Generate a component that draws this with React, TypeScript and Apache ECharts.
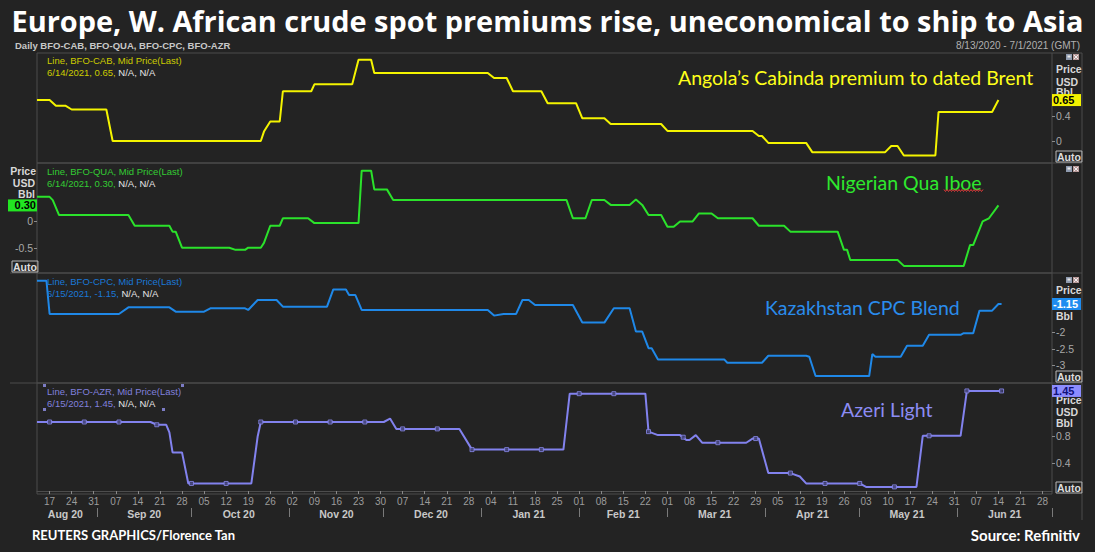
import { useEffect, useRef } from "react";
import * as echarts from "echarts";

const TITLE = "Europe, W. African crude spot premiums rise, uneconomical to ship to Asia";
const SUBTITLE = "Daily BFO-CAB, BFO-QUA, BFO-CPC, BFO-AZR";
const RANGE_TEXT = "8/13/2020 - 7/1/2021 (GMT)";
const CREDIT = "REUTERS GRAPHICS/Florence Tan";
const SOURCE = "Source: Refinitiv";
const X_MIN = "2020-08-13";
const X_MAX = "2021-07-01";

// Angola Cabinda (BFO-CAB)
const cabDates = ["2020-08-13","2020-08-17","2020-08-19","2020-08-22","2020-08-24","2020-09-04","2020-09-06","2020-10-23","2020-10-24","2020-10-26","2020-10-29","2020-10-30","2020-11-08","2020-11-09","2020-11-21","2020-11-23","2020-11-27","2020-11-28","2021-01-03","2021-01-05","2021-01-09","2021-01-11","2021-01-20","2021-01-22","2021-01-31","2021-02-02","2021-02-09","2021-02-11","2021-02-27","2021-03-01","2021-03-28","2021-03-30","2021-03-31","2021-04-02","2021-04-14","2021-04-16","2021-05-09","2021-05-11","2021-05-13","2021-05-15","2021-05-25","2021-05-26","2021-06-12","2021-06-14"];
const cabValues = [0.65,0.65,0.56,0.56,0.5,0.5,0.0,0.0,0.15,0.31,0.31,0.79,0.79,0.9,0.9,1.29,1.29,1.08,1.08,1.0,1.0,0.79,0.79,0.6,0.6,0.36,0.36,0.27,0.27,0.16,0.16,0.08,0.08,-0.03,-0.03,-0.18,-0.18,-0.08,-0.08,-0.23,-0.23,0.46,0.46,0.65];

// Nigerian Qua Iboe (BFO-QUA)
const quaDates = ["2020-08-13","2020-08-17","2020-08-18","2020-08-20","2020-09-11","2020-09-13","2020-09-24","2020-09-25","2020-09-26","2020-09-28","2020-10-13","2020-10-15","2020-10-18","2020-10-19","2020-10-23","2020-10-24","2020-10-26","2020-10-29","2020-10-30","2020-11-07","2020-11-09","2020-11-23","2020-11-24","2020-11-27","2020-11-28","2020-12-02","2020-12-04","2021-01-28","2021-01-30","2021-02-03","2021-02-05","2021-02-09","2021-02-11","2021-02-17","2021-02-19","2021-02-21","2021-02-23","2021-02-27","2021-03-01","2021-03-03","2021-03-05","2021-03-09","2021-03-11","2021-03-15","2021-03-17","2021-03-28","2021-03-30","2021-04-07","2021-04-09","2021-04-24","2021-04-26","2021-04-27","2021-04-28","2021-05-13","2021-05-15","2021-06-03","2021-06-05","2021-06-06","2021-06-09","2021-06-11","2021-06-14"];
const quaValues = [0.46,0.46,0.4,0.12,0.12,-0.08,-0.08,-0.19,-0.19,-0.49,-0.49,-0.53,-0.53,-0.49,-0.49,-0.4,-0.08,-0.08,0.06,0.06,-0.03,-0.03,0.95,0.95,0.6,0.6,0.4,0.4,0.06,0.06,0.4,0.4,0.31,0.31,0.41,0.31,0.12,0.12,-0.1,-0.1,0.0,0.0,0.15,0.15,0.06,0.06,-0.08,-0.08,-0.19,-0.19,-0.53,-0.53,-0.72,-0.72,-0.83,-0.83,-0.44,-0.44,0.0,0.06,0.3];

// Kazakhstan CPC Blend (BFO-CPC)
const cpcDates = ["2020-08-13","2020-08-16","2020-08-17","2020-09-08","2020-09-11","2020-09-24","2020-09-26","2020-10-05","2020-10-07","2020-10-18","2020-10-19","2020-10-22","2020-10-28","2020-10-30","2020-11-13","2020-11-15","2020-11-19","2020-11-20","2020-11-22","2020-11-24","2021-01-03","2021-01-05","2021-01-08","2021-01-12","2021-01-14","2021-01-16","2021-01-18","2021-01-30","2021-02-02","2021-02-09","2021-02-12","2021-02-17","2021-02-19","2021-02-21","2021-02-23","2021-02-24","2021-02-26","2021-03-19","2021-03-20","2021-03-31","2021-04-02","2021-04-14","2021-04-15","2021-04-17","2021-05-04","2021-05-05","2021-05-06","2021-05-14","2021-05-16","2021-05-21","2021-05-23","2021-06-02","2021-06-03","2021-06-06","2021-06-08","2021-06-12","2021-06-14","2021-06-15"];
const cpcValues = [-0.45,-0.45,-1.45,-1.45,-1.25,-1.25,-1.38,-1.38,-1.28,-1.28,-1.33,-1.03,-1.03,-1.23,-1.23,-0.71,-0.71,-0.88,-0.88,-1.33,-1.33,-1.5,-1.45,-1.45,-1.03,-1.03,-1.18,-1.18,-1.71,-1.71,-1.28,-1.28,-1.98,-1.98,-2.48,-2.48,-2.82,-2.82,-2.92,-2.92,-2.71,-2.71,-2.74,-3.32,-3.32,-2.66,-2.74,-2.74,-2.41,-2.41,-2.08,-2.08,-2.03,-2.03,-1.35,-1.35,-1.15,-1.15];

// Azeri Light (BFO-AZR)
const azrDates = ["2020-08-13","2020-09-18","2020-09-20","2020-09-23","2020-09-24","2020-09-25","2020-09-28","2020-09-30","2020-10-20","2020-10-22","2020-10-23","2020-12-01","2020-12-03","2020-12-05","2020-12-25","2020-12-29","2021-01-27","2021-01-29","2021-02-22","2021-02-23","2021-02-26","2021-03-05","2021-03-07","2021-03-08","2021-03-10","2021-03-12","2021-03-26","2021-03-28","2021-03-30","2021-04-02","2021-04-09","2021-04-12","2021-04-14","2021-05-01","2021-05-03","2021-05-19","2021-05-21","2021-06-02","2021-06-04","2021-06-15"];
const azrValues = [1.0,1.0,0.96,0.96,0.85,0.56,0.56,0.11,0.11,0.79,1.0,1.0,1.05,0.9,0.9,0.6,0.6,1.41,1.41,0.86,0.81,0.81,0.74,0.74,0.81,0.7,0.7,0.76,0.76,0.26,0.26,0.21,0.11,0.11,0.06,0.06,0.8,0.8,1.45,1.45];
const azrMarkerDates = ["2020-08-17","2020-08-28","2020-09-08","2020-09-20","2020-10-01","2020-10-12","2020-10-23","2020-11-03","2020-11-14","2020-11-25","2020-12-07","2020-12-18","2020-12-29","2021-01-09","2021-01-20","2021-02-01","2021-02-12","2021-02-23","2021-03-06","2021-03-17","2021-03-29","2021-04-09","2021-04-20","2021-05-01","2021-05-12","2021-05-23","2021-06-04","2021-06-15"];
const azrMarkerValues = [1.0,1.0,1.0,0.96,0.11,0.11,1.0,1.0,1.0,1.0,0.9,0.9,0.6,0.6,0.6,1.41,1.41,0.86,0.78,0.7,0.76,0.26,0.11,0.11,0.06,0.8,1.45,1.45];

// x-axis ticks
const weekTickDates = ["2020-08-17","2020-08-24","2020-08-31","2020-09-07","2020-09-14","2020-09-21","2020-09-28","2020-10-05","2020-10-12","2020-10-19","2020-10-26","2020-11-02","2020-11-09","2020-11-16","2020-11-23","2020-11-30","2020-12-07","2020-12-14","2020-12-21","2020-12-28","2021-01-04","2021-01-11","2021-01-18","2021-01-25","2021-02-01","2021-02-08","2021-02-15","2021-02-22","2021-03-01","2021-03-08","2021-03-15","2021-03-22","2021-03-29","2021-04-05","2021-04-12","2021-04-19","2021-04-26","2021-05-03","2021-05-10","2021-05-17","2021-05-24","2021-05-31","2021-06-07","2021-06-14","2021-06-21","2021-06-28"];
const monthBoundaryDates = ["2020-09-01","2020-10-01","2020-11-01","2020-12-01","2021-01-01","2021-02-01","2021-03-01","2021-04-01","2021-05-01","2021-06-01","2021-07-01"];
const monthLabelDates = ["2020-08-22","2020-09-16","2020-10-16","2020-11-16","2020-12-16","2021-01-16","2021-02-15","2021-03-16","2021-04-16","2021-05-16","2021-06-16"];
const monthLabels = ["Aug 20","Sep 20","Oct 20","Nov 20","Dec 20","Jan 21","Feb 21","Mar 21","Apr 21","May 21","Jun 21"];

// y-axis ticks & last-value badges
const cabTicks = [0, 0.4];
const cabBadge = 0.65;
const quaTicks = [-0.5, 0];
const quaBadge = 0.3;
const cpcTicks = [-3, -2.5, -2];
const cpcBadge = -1.15;
const azrTicks = [0.4, 0.8];
const azrBadge = 1.45;

const SMALL = "'Liberation Sans', Arial, sans-serif";
const BIG = "Lato, 'Open Sans', sans-serif";
const TITLE_FONT = "'Open Sans', Lato, sans-serif";
const BG = "#232323";
const GRIDLINE = "#4d4d4d";

function ts(s: string): number {
  const [y, m, d] = s.split("-").map(Number);
  return Date.UTC(y, m - 1, d);
}
function pairs(dates: string[], values: number[]) {
  return dates.map((d, i) => [ts(d), values[i]]);
}

function yAxis(
  gridIndex: number,
  min: number,
  max: number,
  ticks: number[],
  badge: number,
  side: "left" | "right",
  badgeBg: string,
  badgeFg: string
) {
  return {
    type: "value",
    gridIndex,
    position: side,
    min,
    max,
    z: 20,
    axisLine: { show: false },
    splitLine: { show: false },
    axisTick: {
      show: true,
      inside: false,
      length: 3,
      customValues: ticks,
      lineStyle: { color: "#8a8a8a" },
    },
    axisLabel: {
      show: true,
      margin: 0,
      customValues: [...ticks, badge],
      formatter: (v: number) =>
        Math.abs(v - badge) < 1e-9 ? `{b|${badge.toFixed(2)}}` : `{n|${String(v)}}`,
      rich: {
        n: {
          color: "#a8a8a8",
          fontSize: 10.5,
          fontFamily: SMALL,
          padding: side === "right" ? [0, 0, 0, 4] : [0, 4, 0, 0],
        },
        b: {
          backgroundColor: badgeBg,
          color: badgeFg,
          fontSize: 11,
          fontWeight: "bold",
          fontFamily: SMALL,
          width: 27,
          height: 12,
          lineHeight: 12,
          align: side === "right" ? "left" : "right",
          padding: [0, 1, 0, 1],
        },
      },
    },
  };
}

function text(x: number, y: number, t: string, style: any = {}, z = 5) {
  return {
    type: "text",
    x,
    y,
    z,
    style: {
      text: t,
      fill: "#cccccc",
      fontSize: 10,
      fontFamily: SMALL,
      align: "left",
      verticalAlign: "middle",
      textAlign: "left",
      textVerticalAlign: "middle",
      ...style,
    },
  };
}
function hline(x1: number, x2: number, y: number, color = GRIDLINE) {
  return { type: "line", z: 1, shape: { x1, y1: y, x2, y2: y }, style: { stroke: color, lineWidth: 1 } };
}
function vline(x: number, y1: number, y2: number, color = GRIDLINE) {
  return { type: "line", z: 1, shape: { x1: x, y1, x2: x, y2 }, style: { stroke: color, lineWidth: 1 } };
}
function autoBox(x: number, y: number) {
  return {
    type: "text",
    x,
    y,
    z: 6,
    style: {
      text: "Auto",
      fill: "#dddddd",
      fontSize: 10.5,
      fontWeight: "bold",
      fontFamily: SMALL,
      borderColor: "#b8b8b8",
      borderWidth: 1,
      padding: [0, 1, 0, 1],
      align: "left",
      verticalAlign: "top",
      textAlign: "left",
      textVerticalAlign: "top",
    },
  };
}
function icons(x: number, y: number) {
  return [
    { type: "rect", z: 6, shape: { x, y, width: 6, height: 6 }, style: { fill: "#8e9aae" } },
    { type: "rect", z: 7, shape: { x: x + 1.5, y: y + 1.5, width: 3, height: 2 }, style: { fill: "#e8e8e8" } },
    { type: "rect", z: 6, shape: { x: x + 7, y, width: 6, height: 6 }, style: { fill: "#b89a9a" } },
    { type: "line", z: 7, shape: { x1: x + 8, y1: y + 1, x2: x + 12, y2: y + 5 }, style: { stroke: "#eee", lineWidth: 1 } },
    { type: "line", z: 7, shape: { x1: x + 12, y1: y + 1, x2: x + 8, y2: y + 5 }, style: { stroke: "#eee", lineWidth: 1 } },
  ];
}
function header(y: number, line1: string, dateVal: string, color: string) {
  return [
    text(47, y, line1, { fill: color, fontSize: 9.5 }),
    text(47, y + 12.5, `{c|${dateVal}, }{w|N/A, N/A}`, {
      fontSize: 9.5,
      rich: {
        c: { fill: color, fontSize: 9.5, fontFamily: SMALL },
        w: { fill: "#e8e8e8", fontSize: 9.5, fontFamily: SMALL },
      },
    }),
  ];
}

export default function App() {
  const ref = useRef<HTMLDivElement>(null);

  useEffect(() => {
    if (!ref.current) return;
    const chart = echarts.init(ref.current, undefined, { renderer: "svg" });
    const xmin = ts(X_MIN);
    const xmax = ts(X_MAX);
    const weekTicks = weekTickDates.map(ts);
    const monthTicks = monthBoundaryDates.map(ts);
    const monthMids = monthLabelDates.map(ts);
    const monthMap = new Map<number, string>();
    monthMids.forEach((v, i) => monthMap.set(v, monthLabels[i]));

    const gridLeft = 37;
    const gridRight = 43;
    const grids = [
      { top: 53, height: 110 },
      { top: 163, height: 110 },
      { top: 273, height: 110 },
      { top: 383, height: 111 },
    ].map((g) => ({
      ...g,
      left: gridLeft,
      right: gridRight,
      show: true,
      borderColor: GRIDLINE,
      borderWidth: 1,
      backgroundColor: "transparent",
    }));

    const hiddenX = (i: number) => ({
      type: "value",
      gridIndex: i,
      min: xmin,
      max: xmax,
      show: false,
      splitLine: { show: false },
    });

    const squiggle: number[][] = [];
    for (let i = 0; i <= 26; i++) squiggle.push([944 + i * 1.5, 190.5 + (i % 2 === 0 ? -1 : 1)]);

    const handle = (x: number, y: number) => ({
      type: "rect",
      z: 6,
      shape: { x, y, width: 3, height: 3 },
      style: { fill: "#7c7cc4" },
    });

    const labelStyle = { fill: "#d8d8d8", fontSize: 10.5, fontWeight: "bold" };

    const option: any = {
      animation: false,
      backgroundColor: BG,
      grid: grids,
      xAxis: [
        hiddenX(0),
        hiddenX(1),
        hiddenX(2),
        {
          type: "value",
          gridIndex: 3,
          min: xmin,
          max: xmax,
          splitLine: { show: false },
          axisLine: { show: true, lineStyle: { color: GRIDLINE } },
          axisTick: { show: true, customValues: weekTicks, length: 3, lineStyle: { color: "#8a8a8a" } },
          axisLabel: {
            customValues: weekTicks,
            formatter: (v: number) => String(new Date(v).getUTCDate()).padStart(2, "0"),
            color: "#9c9c9c",
            fontSize: 10,
            fontFamily: SMALL,
            margin: 2,
          },
        },
        {
          type: "value",
          gridIndex: 3,
          min: xmin,
          max: xmax,
          position: "bottom",
          offset: 14,
          splitLine: { show: false },
          axisLine: { show: false },
          axisTick: { show: true, customValues: monthTicks, length: 9, lineStyle: { color: "#7a7a7a" } },
          axisLabel: {
            customValues: monthMids,
            formatter: (v: number) => monthMap.get(v) ?? "",
            color: "#c8c8c8",
            fontWeight: "bold",
            fontSize: 10.5,
            fontFamily: SMALL,
            margin: 0,
          },
        },
      ],
      yAxis: [
        yAxis(0, -0.349, 1.397, cabTicks, cabBadge, "right", "#f2f200", "#000000"),
        yAxis(1, -0.963, 1.093, quaTicks, quaBadge, "left", "#22e622", "#000000"),
        yAxis(2, -3.53, -0.216, cpcTicks, cpcBadge, "right", "#1e8cf0", "#ffffff"),
        yAxis(3, -0.043, 1.565, azrTicks, azrBadge, "right", "#8c8cff", "#10107a"),
      ],
      series: [
        {
          type: "line",
          name: "BFO-CAB",
          xAxisIndex: 0,
          yAxisIndex: 0,
          data: pairs(cabDates, cabValues),
          showSymbol: false,
          lineStyle: { color: "#f4f400", width: 2 },
          itemStyle: { color: "#f4f400" },
        },
        {
          type: "line",
          name: "BFO-QUA",
          xAxisIndex: 1,
          yAxisIndex: 1,
          data: pairs(quaDates, quaValues),
          showSymbol: false,
          lineStyle: { color: "#2be22b", width: 2 },
          itemStyle: { color: "#2be22b" },
        },
        {
          type: "line",
          name: "BFO-CPC",
          xAxisIndex: 2,
          yAxisIndex: 2,
          data: pairs(cpcDates, cpcValues),
          showSymbol: false,
          lineStyle: { color: "#1f88e8", width: 2 },
          itemStyle: { color: "#1f88e8" },
        },
        {
          type: "line",
          name: "BFO-AZR",
          xAxisIndex: 3,
          yAxisIndex: 3,
          data: pairs(azrDates, azrValues),
          showSymbol: false,
          lineStyle: { color: "#8282ee", width: 2 },
          itemStyle: { color: "#8282ee" },
        },
        {
          type: "scatter",
          name: "BFO-AZR points",
          xAxisIndex: 3,
          yAxisIndex: 3,
          data: pairs(azrMarkerDates, azrMarkerValues),
          symbol: "rect",
          symbolSize: 4,
          itemStyle: { color: "#3a3a66", borderColor: "#8c8cf0", borderWidth: 1 },
          z: 3,
        },
      ],
      graphic: {
        elements: [
          text(547.5, 20, TITLE, {
            fill: "#ffffff",
            fontSize: 28.9,
            fontWeight: "bold",
            fontFamily: TITLE_FONT,
            align: "center",
            textAlign: "center",
          }),
          text(15, 45, SUBTITLE, { fill: "#c8c8c8", fontSize: 9.5, fontWeight: "bold" }),
          text(1080, 45, RANGE_TEXT, { fill: "#b0b0b0", fontSize: 10, align: "right", textAlign: "right" }),
          hline(1052, 1082, 53),
          hline(1052, 1082, 163),
          hline(1052, 1082, 273),
          hline(1052, 1082, 383),
          hline(10, 37, 273),
          hline(10, 37, 383),
          vline(1082, 53, 520),
          ...header(60, "Line, BFO-CAB, Mid Price(Last)", "6/14/2021, 0.65", "#cccc00"),
          ...header(171, "Line, BFO-QUA, Mid Price(Last)", "6/14/2021, 0.30", "#33cc33"),
          ...header(281, "Line, BFO-CPC, Mid Price(Last)", "6/15/2021, -1.15", "#1a78d6"),
          ...header(391, "Line, BFO-AZR, Mid Price(Last)", "6/15/2021, 1.45", "#8080dd"),
          handle(43, 384),
          handle(181, 384),
          handle(43, 408),
          handle(162, 408),
          text(678, 77, "Angola’s Cabinda premium to dated Brent", { fill: "#ffff1a", fontSize: 19.5, fontFamily: BIG }),
          text(826, 182, "Nigerian Qua Iboe", { fill: "#2ee82e", fontSize: 19.5, fontFamily: BIG }),
          { type: "polyline", z: 6, shape: { points: squiggle }, style: { stroke: "#e03a3a", lineWidth: 1, fill: null } },
          text(765, 307, "Kazakhstan CPC Blend", { fill: "#2a8cec", fontSize: 19.5, fontFamily: BIG }),
          text(841, 409, "Azeri Light", { fill: "#8c8cf4", fontSize: 19.5, fontFamily: BIG }),
          ...icons(1066, 54),
          text(1056, 69, "Price", labelStyle, 1),
          text(1056, 82, "USD", labelStyle, 1),
          text(1056, 92, "Bbl", labelStyle, 1),
          autoBox(1056, 151),
          ...icons(1066, 166),
          text(36, 171, "Price", { ...labelStyle, align: "right", textAlign: "right" }, 1),
          text(35, 183, "USD", { ...labelStyle, align: "right", textAlign: "right" }, 1),
          text(35, 194, "Bbl", { ...labelStyle, align: "right", textAlign: "right" }, 1),
          autoBox(12, 261),
          ...icons(1066, 277),
          text(1056, 290, "Price", labelStyle, 1),
          text(1056, 316, "Bbl", labelStyle, 1),
          autoBox(1056, 371),
          text(1056, 400, "Price", labelStyle, 1),
          text(1056, 411.5, "USD", labelStyle, 1),
          text(1056, 423, "Bbl", labelStyle, 1),
          autoBox(1056, 482),
          text(32, 535, CREDIT, { fill: "#ffffff", fontSize: 13, fontWeight: "bold", fontFamily: BIG }),
          text(1080, 535, SOURCE, {
            fill: "#ffffff",
            fontSize: 15,
            fontWeight: "bold",
            fontFamily: BIG,
            align: "right",
            textAlign: "right",
          }),
        ],
      },
    };

    chart.setOption(option);
    return () => chart.dispose();
  }, []);

  return (
    <div
      ref={ref}
      style={{ position: "fixed", left: 0, top: 0, width: 1095, height: 552, background: BG }}
    />
  );
}
